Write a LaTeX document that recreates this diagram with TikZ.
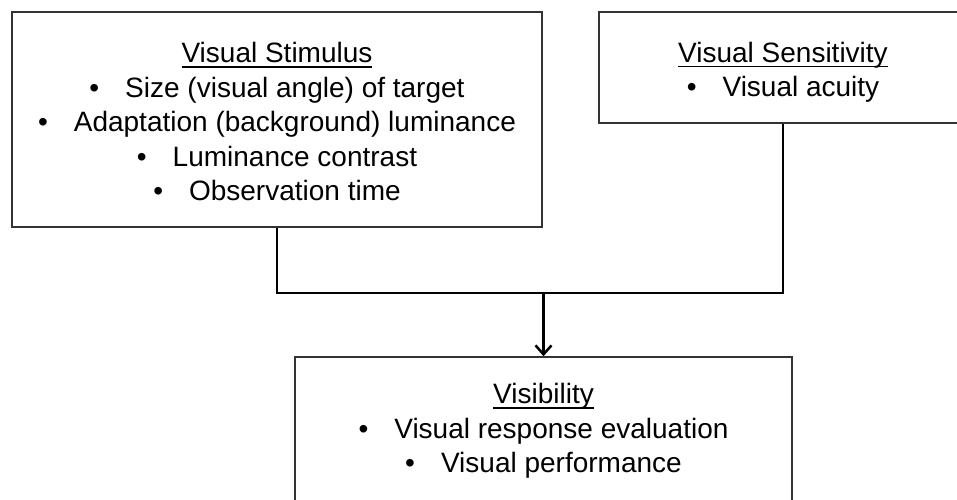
\documentclass[tikz,border=0pt]{standalone}
\usepackage{fontspec}
\setmainfont{Liberation Sans}
\usepackage{tikz}
\usetikzlibrary{arrows.meta}

\tikzset{
  box/.style={draw=black!80, line width=1.5pt, align=center, inner sep=0pt,
    font=\fontsize{28}{34.5}\selectfont},
  link/.style={line width=2.5pt}
}
\newcommand{\bul}{\textbullet\hspace{26pt}}
\newcommand{\ttl}[2][0pt]{\setbox0\hbox{#2}\rlap{\rule[-5pt]{\wd0}{1.6pt}}%
  \rule{0pt}{\dimexpr\ht0+#1\relax}\box0}

\begin{document}
\begin{tikzpicture}[x=1pt,y=-1pt]
\useasboundingbox (0,0) rectangle (957,499);

\node[box, minimum width=530pt, minimum height=215pt] (stimulus) at (277,119.5)
  {\ttl[4pt]{Visual Stimulus}\\
   \bul Size (visual angle) of target\\
   \bul Adaptation (background) luminance\\
   \bul Luminance contrast\\
   \bul Observation time};
\node[box, minimum width=368pt, minimum height=111pt] (sensitivity) at (783,67.5)
  {\ttl[10pt]{Visual Sensitivity}\\
   \bul Visual acuity};
\node[box, minimum width=497pt, minimum height=148pt] (visibility) at (543.5,431)
  {\ttl{Visibility}\\
   \bul Visual response evaluation\\
   \bul Visual performance};

\coordinate (join) at (visibility.north |- 0,293);
\draw[link] (stimulus.south) |- (join) -| (sensitivity.south);
\draw[link, -{Straight Barb[length=9pt,width=16pt]}] (join) -- (visibility.north);
%\draw[link] (join) -- ++(0,40);
\end{tikzpicture}
\end{document}
